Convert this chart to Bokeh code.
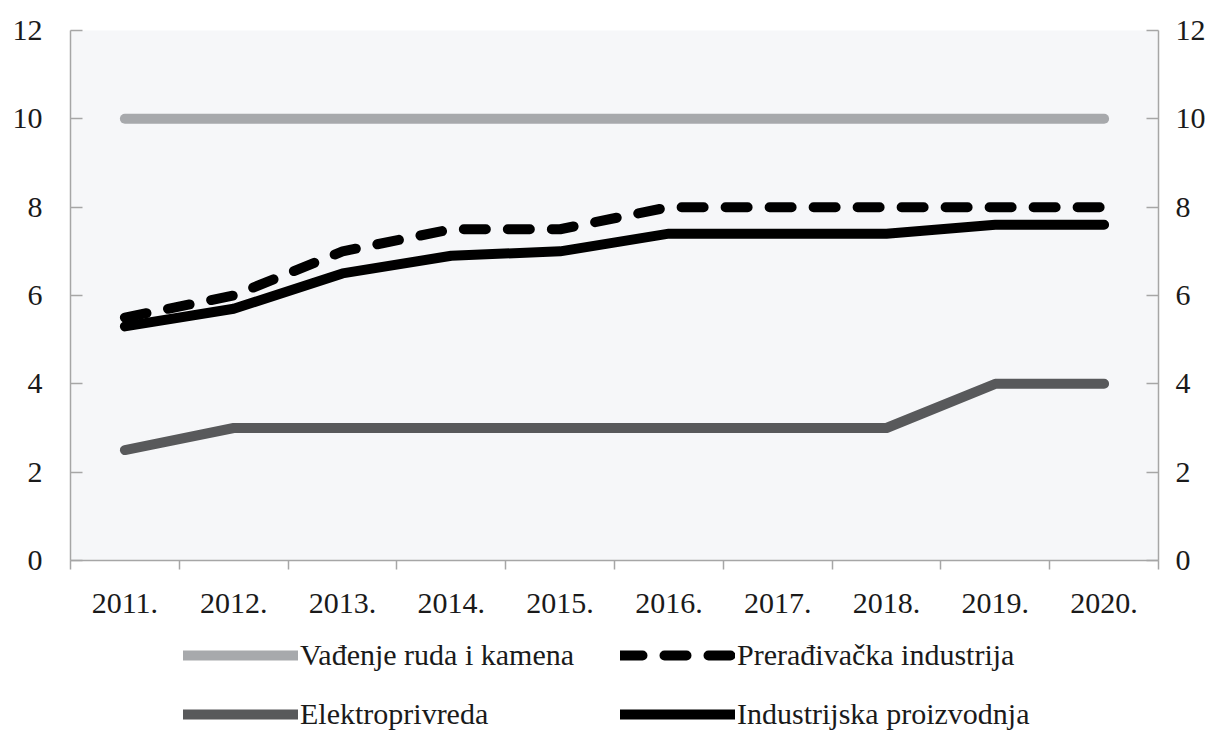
from bokeh.plotting import figure
from bokeh.layouts import column
from bokeh.models import Range1d, LinearAxis, FixedTicker, Legend, LegendItem
from bokeh.embed import file_html
from bokeh.resources import INLINE

years = ["2011.", "2012.", "2013.", "2014.", "2015.", "2016.", "2017.", "2018.", "2019.", "2020."]
vadjenje = [10, 10, 10, 10, 10, 10, 10, 10, 10, 10]
preradjivacka = [5.5, 6.0, 7.0, 7.5, 7.5, 8.0, 8.0, 8.0, 8.0, 8.0]
elektroprivreda = [2.5, 3, 3, 3, 3, 3, 3, 3, 4, 4]
industrijska = [5.3, 5.7, 6.5, 6.9, 7.0, 7.4, 7.4, 7.4, 7.6, 7.6]
y_ticks = [0, 2, 4, 6, 8, 10, 12]

names = ["Vađenje ruda i kamena", "Prerađivačka industrija", "Elektroprivreda", "Industrijska proizvodnja"]
colors = ["#a7a9ac", "black", "#58595b", "black"]
dashes = ["solid", "22 22", "solid", "solid"]
series = [vadjenje, preradjivacka, elektroprivreda, industrijska]

FONT = "Liberation Serif"
AXIS_COLOR = "#a6a6a6"

n = len(years)
xs = [i + 0.5 for i in range(n)]

p = figure(frame_width=1088, frame_height=530, output_backend="svg", toolbar_location=None,
           x_range=Range1d(0, n), y_range=Range1d(0, 12),
           min_border_left=70, min_border_right=46, min_border_top=30, min_border_bottom=60,
           y_axis_location=None, x_axis_location=None)
p.background_fill_color = "#f6f7f9"
p.border_fill_color = "white"
p.outline_line_color = None
p.xgrid.visible = False
p.ygrid.visible = False

for vals, c, d in zip(series, colors, dashes):
    p.line(xs, vals, line_color=c, line_width=10, line_cap="round", line_join="round", line_dash=d)

def style_y(ax, standoff):
    ax.ticker = FixedTicker(ticks=y_ticks)
    ax.axis_line_color = AXIS_COLOR
    ax.axis_line_width = 1.5
    ax.major_tick_line_color = AXIS_COLOR
    ax.major_tick_line_width = 1.5
    ax.major_tick_in = 12
    ax.major_tick_out = 0
    ax.minor_tick_line_color = None
    ax.major_label_text_font = FONT
    ax.major_label_text_font_size = "30px"
    ax.major_label_text_color = "#1a1a1a"
    ax.major_label_standoff = standoff

yl = LinearAxis()
style_y(yl, 28)
p.add_layout(yl, "left")
yr = LinearAxis()
style_y(yr, 17)
p.add_layout(yr, "right")

xa = LinearAxis()
xa.ticker = FixedTicker(ticks=xs, minor_ticks=list(range(n + 1)))
xa.major_label_overrides = {x: y for x, y in zip(xs, years)}
xa.axis_line_color = AXIS_COLOR
xa.axis_line_width = 1.5
xa.major_tick_line_color = None
xa.major_tick_in = 0
xa.major_tick_out = 0
xa.minor_tick_line_color = AXIS_COLOR
xa.minor_tick_line_width = 1.5
xa.minor_tick_in = 0
xa.minor_tick_out = 9
xa.major_label_text_font = FONT
xa.major_label_text_font_size = "30px"
xa.major_label_text_color = "#1a1a1a"
xa.major_label_standoff = 24
p.add_layout(xa, "below")

# legend figure below the chart (its lines fall outside its ranges; only the legend shows)
lf = figure(width=1204, height=111, output_backend="svg", toolbar_location=None,
            x_range=Range1d(0, 1), y_range=Range1d(0, 1),
            min_border=0, x_axis_location=None, y_axis_location=None)
lf.outline_line_color = None
lf.xgrid.visible = False
lf.ygrid.visible = False
lrs = [lf.line(xs, vals, line_color=c, line_width=10, line_cap="round", line_dash=d)
       for vals, c, d in zip(series, colors, dashes)]

legend = Legend(items=[LegendItem(label=names[0], renderers=[lrs[0]]),
                       LegendItem(label=names[2], renderers=[lrs[2]]),
                       LegendItem(label=names[1], renderers=[lrs[1]]),
                       LegendItem(label=names[3], renderers=[lrs[3]])],
                orientation="vertical", nrows=2, location=(113, 0))
legend.label_text_font = FONT
legend.label_text_font_size = "30px"
legend.label_text_color = "#1a1a1a"
legend.glyph_width = 115
legend.glyph_height = 30
legend.label_standoff = 2
legend.label_width = 295
legend.spacing = 25
legend.label_height = 30
legend.padding = 0
legend.margin = 0
legend.border_line_color = None
legend.background_fill_alpha = 0
lf.add_layout(legend)

layout = column(p, lf, spacing=0)
open("out.html", "w").write(file_html(layout, INLINE))
